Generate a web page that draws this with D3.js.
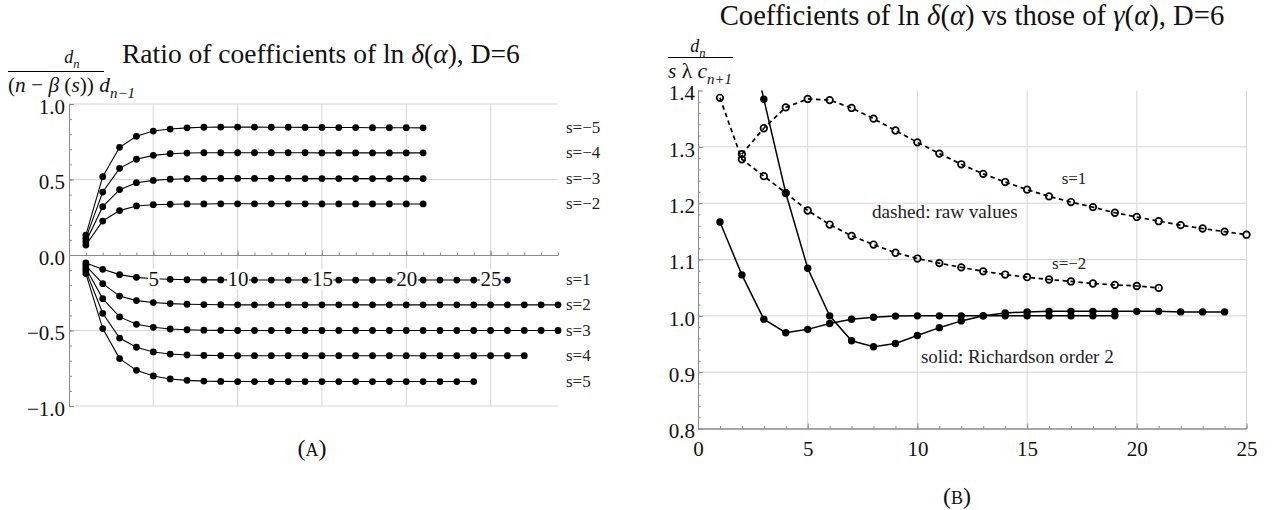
<!DOCTYPE html>
<html><head><meta charset="utf-8">
<script src="https://cdn.jsdelivr.net/npm/d3@7"></script>
<style>
body{margin:0;background:#fff}
text{font-family:"Liberation Serif","Times New Roman",serif;fill:#111}
</style>
</head><body>
<svg id="c" width="1273" height="510"></svg>
<script>
// ---------- Panel A data: ratio d_n / ((n-beta(s)) d_{n-1}), index n = 1.. ----------
const sLabelsA = ["s=\u22125","s=\u22124","s=\u22123","s=\u22122","s=1","s=2","s=3","s=4","s=5"];
const A_sm5 = [0.132,0.519,0.713,0.786,0.821,0.834,0.842,0.846,0.847,0.847,0.847,0.846,0.846,0.845,0.845,0.844,0.844,0.843,0.843,0.843,0.842];
const A_sm4 = [0.110,0.417,0.574,0.634,0.660,0.671,0.675,0.677,0.677,0.677,0.677,0.677,0.677,0.677,0.676,0.676,0.676,0.676,0.676,0.676,0.676];
const A_sm3 = [0.088,0.320,0.433,0.479,0.494,0.502,0.505,0.506,0.507,0.507,0.507,0.507,0.507,0.506,0.506,0.506,0.506,0.506,0.506,0.506,0.506];
const A_sm2 = [0.066,0.225,0.294,0.325,0.333,0.336,0.338,0.338,0.339,0.339,0.339,0.339,0.339,0.339,0.338,0.338,0.338,0.338,0.338,0.338,0.338];
const A_s1  = [-0.053,-0.095,-0.130,-0.148,-0.157,-0.161,-0.164,-0.165,-0.165,-0.166,-0.166,-0.166,-0.166,-0.166,-0.166,-0.166,-0.166,-0.166,-0.166,-0.166,-0.166,-0.166,-0.166,-0.166,-0.166,-0.166];
const A_s2  = [-0.070,-0.190,-0.272,-0.302,-0.315,-0.322,-0.326,-0.328,-0.329,-0.330,-0.330,-0.330,-0.330,-0.330,-0.330,-0.330,-0.330,-0.330,-0.330,-0.330,-0.330,-0.330,-0.330,-0.330,-0.330,-0.330,-0.330,-0.330,-0.330];
const A_s3  = [-0.088,-0.289,-0.410,-0.459,-0.479,-0.490,-0.495,-0.498,-0.499,-0.500,-0.500,-0.500,-0.500,-0.500,-0.500,-0.500,-0.500,-0.500,-0.500,-0.500,-0.500,-0.500,-0.500,-0.500,-0.500,-0.500,-0.500,-0.500,-0.500];
const A_s4  = [-0.105,-0.386,-0.550,-0.611,-0.642,-0.656,-0.662,-0.665,-0.666,-0.667,-0.667,-0.667,-0.667,-0.667,-0.667,-0.667,-0.667,-0.667,-0.667,-0.667,-0.667,-0.667,-0.667,-0.667,-0.667,-0.667,-0.667];
const A_s5  = [-0.123,-0.487,-0.686,-0.764,-0.801,-0.821,-0.830,-0.835,-0.837,-0.838,-0.838,-0.838,-0.838,-0.838,-0.838,-0.838,-0.838,-0.838,-0.838,-0.838,-0.838,-0.838,-0.838,-0.838];
const seriesA = [A_sm5,A_sm4,A_sm3,A_sm2,A_s1,A_s2,A_s3,A_s4,A_s5];
const ticksAx = [5,10,15,20,25];
const ticksAy = [-1.0,-0.5,0.0,0.5,1.0];
const gridAy = [-1.0,-0.5,0.5,1.0];

// ---------- Panel B data ----------
const B_raw_s1_start = 2;
const B_raw_s1  = [1.287,1.333,1.370,1.385,1.383,1.369,1.350,1.329,1.308,1.288,1.269,1.252,1.2375,1.224,1.212,1.202,1.193,1.183,1.1755,1.168,1.161,1.155,1.1495,1.144];
const B_raw_sm2_start = 1;
const B_raw_sm2 = [1.387,1.278,1.248,1.218,1.187,1.162,1.142,1.1265,1.112,1.1017,1.0936,1.086,1.079,1.0733,1.0686,1.0645,1.061,1.0574,1.055,1.053,1.0496];
const B_rich_s1_start = 2;
const B_rich_s1  = [1.55,1.3846,1.218,1.0845,1.0,0.9557,0.945,0.951,0.9652,0.979,0.991,1.0,1.005,1.007,1.008,1.008,1.008,1.008,1.008,1.008,1.007,1.007,1.007];
const B_rich_sm2_start = 1;
const B_rich_sm2 = [1.1666,1.0727,0.9941,0.970,0.976,0.9865,0.994,0.9976,0.9995,1.0,1.0,1.0,1.0,1.0,1.0,1.0,1.0,1.0,1.0];
const ticksBx = [0,5,10,15,20,25];
const ticksBy = [0.8,0.9,1.0,1.1,1.2,1.3,1.4];
const gridBx = [5,10,15,20,25];
const gridBy = [0.9,1.0,1.1,1.2,1.3];

const svg = d3.select("#c");
const GRID = "#d4d4d4", AX = "#8a8a8a";
const TICKFS = 21;

function toPts(arr, start){ return arr.map((v,i)=>({n:i+start, v})); }

function rich(g, x, y, parts, size, anchor){
  const t = g.append("text").attr("x",x).attr("y",y).attr("font-size",size).attr("text-anchor",anchor||"start");
  let sub=false;
  parts.forEach(p=>{
    const ts = t.append("tspan").text(p.t);
    if(p.i) ts.attr("font-style","italic");
    if(p.sub){ ts.attr("font-size", size*0.7); if(!sub){ts.attr("dy", size*0.28); sub=true;} }
    else if(sub){ ts.attr("dy", -size*0.28); sub=false; }
  });
  return t;
}
function richFit(g, x, y, parts, target, anchor){
  const t = rich(g, x, y, parts, 20, anchor);
  const w = t.node().getBBox().width || 1;
  t.remove();
  return rich(g, x, y, parts, 20*target/w, anchor);
}
function caption(g, x, y, letter){
  const c = g.append("text").attr("x",x).attr("y",y).attr("text-anchor","middle").attr("font-size",24);
  c.append("tspan").text("(");
  c.append("tspan").attr("font-size",18).text(letter);
  c.append("tspan").text(")");
}

// ================= Panel A =================
const xA = d3.scaleLinear().domain([0,29]).range([69,558]);
const yA = d3.scaleLinear().domain([-1,1]).range([406,104]);
const gA = svg.append("g");

gA.append("g").selectAll("line").data(gridAy).join("line")
  .attr("x1",xA(0)).attr("x2",xA(29)).attr("y1",d=>yA(d)).attr("y2",d=>yA(d))
  .attr("stroke",GRID).attr("stroke-width",1);
gA.append("g").selectAll("line").data(ticksAx).join("line")
  .attr("x1",d=>xA(d)).attr("x2",d=>xA(d)).attr("y1",yA(1)).attr("y2",yA(-1))
  .attr("stroke",GRID).attr("stroke-width",1);

const axAxMinor = gA.append("g").attr("transform",`translate(0,${yA(0)})`)
  .call(d3.axisBottom(xA).tickValues(d3.range(1,30)).tickSize(-2.5).tickSizeOuter(0).tickFormat(""));
const axAyMinor = gA.append("g").attr("transform",`translate(${xA(0)},0)`)
  .call(d3.axisLeft(yA).tickValues(d3.range(-10,11).map(k=>k/10)).tickSize(-3).tickSizeOuter(0).tickFormat(""));
const axAy = gA.append("g").attr("transform",`translate(${xA(0)},0)`)
  .call(d3.axisLeft(yA).tickValues(ticksAy).tickSize(-5).tickSizeOuter(0).tickPadding(4).tickFormat(d3.format(".1f")));
[axAxMinor,axAyMinor,axAy].forEach(a=>a.attr("color",AX).attr("font-family",null).attr("font-size",null));
axAy.selectAll("text").attr("font-size",TICKFS).attr("dy","0.45em").style("fill","#111");

const lineA = d3.line().x(d=>xA(d.n)).y(d=>yA(d.v));
seriesA.forEach(s=>{
  gA.append("path").datum(toPts(s,1)).attr("d",lineA).attr("fill","none").attr("stroke","#000").attr("stroke-width",1.1);
});
seriesA.forEach(s=>{
  gA.append("g").selectAll("circle").data(toPts(s,1)).join("circle")
    .attr("cx",d=>xA(d.n)).attr("cy",d=>yA(d.v)).attr("r",3.4).attr("fill","#000");
});

const axAx = gA.append("g").attr("transform",`translate(0,${yA(0)})`)
  .call(d3.axisBottom(xA).tickValues(ticksAx).tickSize(-4.5).tickSizeOuter(0).tickPadding(16).tickFormat(d3.format("d")));
axAx.attr("color",AX).attr("font-family",null).attr("font-size",null);
axAx.selectAll("text").attr("font-size",TICKFS).style("fill","#111");
axAx.selectAll(".tick").each(function(){
  const tk = d3.select(this), tx = tk.select("text"), bb = tx.node().getBBox();
  tk.insert("rect","text").attr("x",bb.x-0.5).attr("y",bb.y+2).attr("width",bb.width+1).attr("height",bb.height-4).attr("fill","#fff");
});

seriesA.forEach((s,i)=>{
  gA.append("text").attr("x",xA(29)+8).attr("y",yA(s[s.length-1])+5)
    .attr("font-size",17).style("fill","#222").text(sLabelsA[i]);
});

richFit(gA, 122, 63, [{t:"Ratio of coefficients of ln "},{t:"\u03b4",i:1},{t:"("},{t:"\u03b1",i:1},{t:"), D=6"}], 398);
rich(gA, 72, 63, [{t:"d",i:1},{t:"n",i:1,sub:1}], 18, "middle");
gA.append("line").attr("x1",8).attr("x2",104).attr("y1",71.5).attr("y2",71.5).attr("stroke","#000").attr("stroke-width",1);
richFit(gA, 8, 92, [{t:"("},{t:"n",i:1},{t:" \u2212 "},{t:"\u03b2",i:1},{t:" ("},{t:"s",i:1},{t:")) "},{t:"d",i:1},{t:"n\u22121",i:1,sub:1}], 127);
caption(gA, 312, 456, "A");

// ================= Panel B =================
const xB = d3.scaleLinear().domain([0,25]).range([698,1246.5]);
const yB = d3.scaleLinear().domain([0.8,1.4]).range([428.5,90.5]);
const gB = svg.append("g");

gB.append("g").selectAll("line").data(gridBy).join("line")
  .attr("x1",xB(0)).attr("x2",xB(25)).attr("y1",d=>yB(d)).attr("y2",d=>yB(d))
  .attr("stroke",GRID).attr("stroke-width",1);
gB.append("g").selectAll("line").data(gridBx).join("line")
  .attr("x1",d=>xB(d)).attr("x2",d=>xB(d)).attr("y1",yB(1.4)).attr("y2",yB(0.8))
  .attr("stroke",GRID).attr("stroke-width",1);

const axBxMinor = gB.append("g").attr("transform",`translate(0,${yB(0.8)})`)
  .call(d3.axisBottom(xB).tickValues(d3.range(0,26)).tickSize(-2.5).tickSizeOuter(0).tickFormat(""));
const axBx = gB.append("g").attr("transform",`translate(0,${yB(0.8)})`)
  .call(d3.axisBottom(xB).tickValues(ticksBx).tickSize(-5).tickSizeOuter(0).tickPadding(13).tickFormat(d3.format("d")));
const axByMinor = gB.append("g").attr("transform",`translate(${xB(0)},0)`)
  .call(d3.axisLeft(yB).tickValues(d3.range(40,71).map(k=>k/50)).tickSize(-2.5).tickSizeOuter(0).tickFormat(""));
const axBy = gB.append("g").attr("transform",`translate(${xB(0)},0)`)
  .call(d3.axisLeft(yB).tickValues(ticksBy).tickSize(-5).tickSizeOuter(0).tickPadding(3).tickFormat(d3.format(".1f")));
[axBxMinor,axBx,axByMinor,axBy].forEach(a=>a.attr("color",AX).attr("font-family",null).attr("font-size",null));
axBx.selectAll("text").attr("font-size",TICKFS).style("fill","#111");
axBy.selectAll("text").attr("font-size",TICKFS).attr("dy","0.45em").style("fill","#111");

svg.append("clipPath").attr("id","clipB").append("rect")
  .attr("x",xB(0)).attr("y",yB(1.4)).attr("width",xB(25)-xB(0)).attr("height",yB(0.8)-yB(1.4));
const plotB = gB.append("g").attr("clip-path","url(#clipB)");
const lineB = d3.line().x(d=>xB(d.n)).y(d=>yB(d.v));
const rawB = [toPts(B_raw_s1,B_raw_s1_start), toPts(B_raw_sm2,B_raw_sm2_start)];
const richB = [toPts(B_rich_s1,B_rich_s1_start), toPts(B_rich_sm2,B_rich_sm2_start)];
rawB.forEach(p=>plotB.append("path").datum(p).attr("d",lineB).attr("fill","none")
  .attr("stroke","#000").attr("stroke-width",1.7).attr("stroke-dasharray","4.5,3.5"));
richB.forEach(p=>plotB.append("path").datum(p).attr("d",lineB).attr("fill","none")
  .attr("stroke","#000").attr("stroke-width",1.5));
const pointsB = gB.append("g");
rawB.forEach(p=>pointsB.append("g").selectAll("circle").data(p).join("circle")
  .attr("cx",d=>xB(d.n)).attr("cy",d=>yB(d.v)).attr("r",3.3).attr("fill","none").attr("stroke","#000").attr("stroke-width",1.7));
richB.forEach(p=>pointsB.append("g").selectAll("circle").data(p.filter(d=>d.v<=1.4)).join("circle")
  .attr("cx",d=>xB(d.n)).attr("cy",d=>yB(d.v)).attr("r",3.7).attr("fill","#000"));

gB.append("text").attr("x",xB(17.7)).attr("y",yB(1.2423)+5).attr("text-anchor","end").attr("font-size",17).style("fill","#222").text("s=1");
gB.append("text").attr("x",xB(17.7)).attr("y",yB(1.0916)+5).attr("text-anchor","end").attr("font-size",17).style("fill","#222").text("s=\u22122");
richFit(gB, xB(7.93), yB(1.182)+5, [{t:"dashed: raw values"}], 146).style("fill","#222");
richFit(gB, xB(10.16), yB(0.925)+5, [{t:"solid: Richardson order 2"}], 193).style("fill","#222");

richFit(gB, 972, 25, [{t:"Coefficients of ln "},{t:"\u03b4",i:1},{t:"("},{t:"\u03b1",i:1},{t:") vs those of "},{t:"\u03b3",i:1},{t:"("},{t:"\u03b1",i:1},{t:"), D=6"}], 505, "middle");
rich(gB, 698, 52, [{t:"d",i:1},{t:"n",i:1,sub:1}], 18, "middle");
gB.append("line").attr("x1",668).attr("x2",733).attr("y1",57.5).attr("y2",57.5).attr("stroke","#000").attr("stroke-width",1);
richFit(gB, 668, 78, [{t:"s",i:1},{t:" \u03bb "},{t:"c",i:1},{t:"n+1",i:1,sub:1}], 64);
caption(gB, 957, 504, "B");
</script>
</body></html>
